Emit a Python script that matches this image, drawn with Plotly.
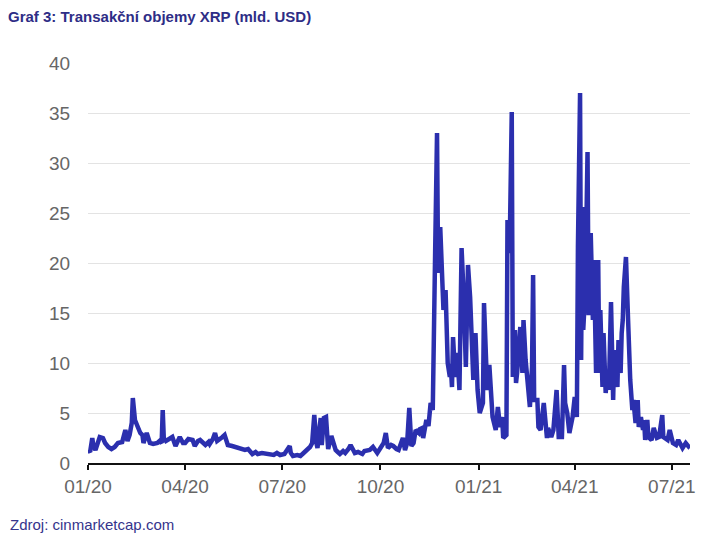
import pandas as pd
import plotly.graph_objects as go

# day offsets from 2020-01-01 and daily XRP volumes (bn USD)
day = [0, 2, 4, 5, 7, 9, 11, 14, 16, 19, 22, 25, 28, 32, 35, 37, 39, 41, 42, 44,
       47, 49, 51, 52, 55, 58, 61, 65, 67, 69, 70, 71, 73, 76, 79, 82, 84, 86, 89, 91,
       94, 98, 100, 103, 105, 108, 110, 113, 114, 117, 119, 121, 124, 126, 128, 131, 135, 138, 141, 144,
       147, 150, 154, 157, 159, 163, 167, 171, 174, 177, 180, 184, 187, 189, 190, 192, 196, 199, 202, 204,
       206, 208, 210, 212, 214, 215, 217, 218, 219, 221, 223, 225, 228, 230, 232, 234, 236, 239, 241, 244,
       246, 248, 250, 253, 257, 259, 262, 264, 267, 271, 274, 277, 279, 280, 281, 284, 286, 289, 291, 295,
       296, 297, 299, 301, 303, 305, 307, 310, 311, 313, 314, 317, 319, 321, 323, 324, 325, 327, 328, 330,
       332, 333, 335, 337, 339, 340, 341, 342, 344, 346, 348, 350, 352, 354, 355, 356, 358, 360, 361, 363,
       365, 367, 370, 371, 373, 374, 376, 378, 379, 382, 384, 386, 388, 389, 392, 393, 395, 397, 398, 400,
       401, 402, 405, 407, 408, 410, 412, 414, 416, 417, 418, 421, 422, 424, 427, 430, 431, 434, 436, 439,
       441, 444, 446, 447, 449, 451, 454, 456, 458, 459, 461, 462, 463, 464, 466, 468, 469, 470, 471, 473,
       474, 476, 478, 479, 480, 482, 483, 485, 487, 488, 490, 492, 493, 496, 497, 499, 500, 501, 502, 504,
       506, 507, 508, 510, 511, 513, 515, 516, 518, 520, 521, 522, 524, 525, 528, 530, 533, 535, 538, 539,
       543, 545, 548, 551, 553, 557, 560, 563, 564]
volume = [1.3, 1.1, 2.5, 1.8, 1.3, 2.0, 2.6, 2.5, 2.0, 1.6, 1.4, 1.6, 2.0, 2.1, 3.3, 2.2, 2.8, 4.0, 6.5, 4.3,
          3.5, 3.0, 2.8, 2.0, 3.0, 2.0, 1.9, 2.0, 2.2, 2.0, 5.3, 2.5, 2.2, 2.4, 2.6, 1.7, 2.2, 2.6, 2.0, 2.0,
          2.4, 2.3, 1.7, 2.2, 2.3, 1.9, 1.8, 2.1, 1.9, 2.4, 3.0, 2.2, 2.4, 2.6, 2.8, 1.8, 1.7, 1.6, 1.5, 1.4,
          1.3, 1.4, 0.9, 1.1, 0.9, 1.0, 0.9, 0.9, 0.8, 1.0, 0.8, 0.9, 1.3, 1.7, 1.0, 0.7, 0.8, 0.7, 1.0, 1.2,
          1.4, 1.6, 2.0, 4.8, 2.0, 1.5, 3.5, 4.5, 1.8, 4.5, 4.6, 1.4, 2.7, 2.0, 1.3, 1.1, 0.9, 1.2, 1.0, 1.4,
          1.8, 1.4, 1.0, 1.1, 0.9, 1.2, 1.3, 1.3, 1.6, 1.0, 1.5, 2.0, 3.0, 1.8, 1.5, 1.8, 1.7, 1.4, 1.3, 2.5,
          1.5, 1.3, 2.0, 5.5, 1.7, 2.0, 3.3, 3.0, 3.4, 3.5, 2.5, 4.3, 3.7, 6.0, 5.3, 16.3, 19.5, 33.0, 19.0, 23.6,
          18.0, 15.3, 17.3, 10.0, 8.6, 9.5, 7.6, 12.6, 8.6, 11.0, 7.3, 21.5, 16.6, 9.6, 14.6, 19.8, 16.6, 9.0, 8.3, 13.0,
          7.3, 5.0, 6.0, 16.0, 10.0, 7.3, 9.8, 6.0, 4.6, 3.3, 5.6, 3.6, 4.6, 2.5, 2.8, 24.3, 21.0, 35.1, 8.6, 13.3,
          8.0, 9.0, 13.6, 9.0, 14.3, 10.3, 8.3, 5.6, 9.6, 18.8, 6.3, 6.3, 3.6, 3.3, 6.0, 2.5, 3.5, 2.6, 3.3, 7.3,
          2.6, 2.6, 9.8, 6.0, 5.0, 3.0, 4.6, 6.6, 4.6, 21.6, 37.0, 10.3, 25.6, 13.3, 17.6, 31.1, 15.0, 15.0, 23.0, 14.3,
          20.3, 9.0, 20.3, 9.0, 15.3, 7.6, 13.0, 7.0, 9.3, 7.3, 16.1, 6.3, 11.3, 7.6, 12.3, 9.0, 13.0, 14.3, 17.6, 20.6,
          14.3, 10.6, 8.3, 5.3, 6.3, 4.0, 6.3, 3.6, 4.6, 3.3, 4.3, 2.3, 4.3, 2.6, 2.3, 3.5, 2.5, 2.6, 4.8, 2.6,
          2.3, 3.3, 2.0, 1.8, 2.3, 1.5, 2.0, 1.6, 1.5]

tick_dates = ['2020-01-01', '2020-04-01', '2020-07-01', '2020-10-01',
              '2021-01-01', '2021-04-01', '2021-07-01']
tick_text = ['01/20', '04/20', '07/20', '10/20', '01/21', '04/21', '07/21']

dates = pd.Timestamp('2020-01-01') + pd.to_timedelta(day, unit='D')

fig = go.Figure()
fig.add_trace(go.Scatter(
    x=dates, y=volume, mode='lines',
    line=dict(color='#2b2fae', width=4.5),
    showlegend=False,
))

# the page body adds an 8px margin, so the figure is laid out 8px smaller
W, H = 700, 531
font = 'Arial, Liberation Sans, sans-serif'
fig.update_layout(
    width=W, height=H,
    margin=dict(l=80, r=18, t=55, b=76),
    paper_bgcolor='white', plot_bgcolor='white',
    font=dict(family=font),
    title=dict(
        text='<b>Graf 3: Transakční objemy XRP (mld. USD)</b>',
        font=dict(size=15, color='#2e2d86', family=font),
        xref='container', x=0, xanchor='left',
        yref='container', y=1 - 9 / H, yanchor='middle',
    ),
    xaxis=dict(
        type='date', range=['2020-01-01', '2021-07-18'],
        tickvals=tick_dates, ticktext=tick_text,
        showgrid=False, zeroline=False,
        showline=True, linecolor='#111', linewidth=2,
        ticks='outside', ticklen=5, tickwidth=2, tickcolor='#111',
        tickfont=dict(size=19, color='#666'),
    ),
    yaxis=dict(
        range=[0, 40], tickvals=list(range(0, 45, 5)),
        showgrid=True, gridcolor='#e3e3e3', gridwidth=1,
        zeroline=False, showline=False,
        ticks='outside', ticklen=13, tickcolor='rgba(0,0,0,0)',
        tickfont=dict(size=19, color='#666'),
    ),
)

fig.add_annotation(
    text='Zdroj: cinmarketcap.com', showarrow=False,
    xref='paper', x=-80 / 602, xanchor='left',
    yref='paper', y=(455 - 516) / 400, yanchor='middle',
    font=dict(size=15, color='#35348c', family=font),
)

fig.write_html('out.html')
